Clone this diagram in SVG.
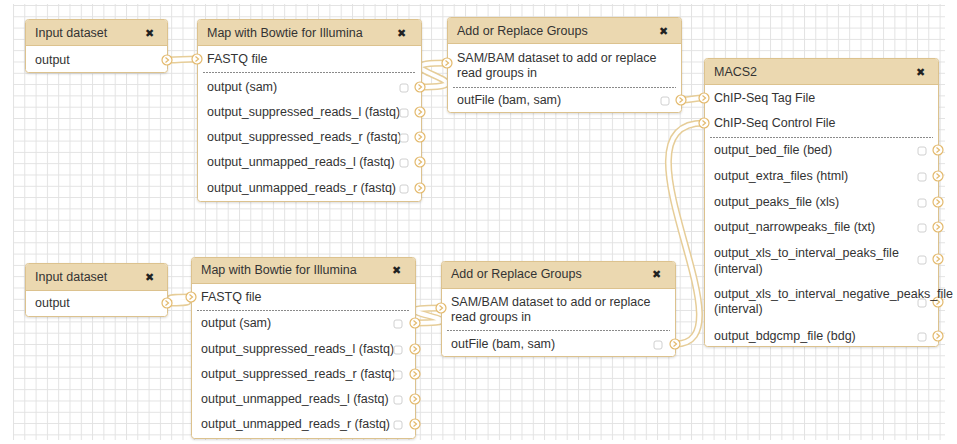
<svg xmlns="http://www.w3.org/2000/svg" width="957" height="444" viewBox="0 0 957 444">
<defs>
<pattern id="grid" width="11.3" height="11.3" patternUnits="userSpaceOnUse" x="13" y="5">
<path d="M0 0.5H11.3M0.5 0V11.3" stroke="#e2e2e2" fill="none" stroke-width="1"/>
</pattern>
<filter id="sh" x="-5%" y="-5%" width="110%" height="115%"><feDropShadow dx="0" dy="1" stdDeviation="1" flood-color="#000" flood-opacity="0.15"/></filter>
<g id="term"><circle r="5" fill="#fff" stroke="#e3b96c" stroke-width="1.2"/><path d="M-1.5 -2.5L1.5 0L-1.5 2.5" fill="none" stroke="#e3b96c" stroke-width="1.2"/></g>
<rect id="cb" x="-4" y="-4" width="8" height="8" rx="2" fill="#fff" stroke="#d0d0d0"/>
</defs>
<style>
.t{font-family:"Liberation Sans",Arial,sans-serif;font-size:12.5px;fill:#333}
.x{font-family:"DejaVu Sans",sans-serif;font-size:11px;fill:#222;font-weight:bold}
.body{fill:#fff;stroke:#dcc28e;stroke-width:1}
.head{fill:#ebd8b0}
.hl{stroke:#dcc28e;stroke-width:1}
.sep{stroke:#8a8a8a;stroke-width:1;stroke-dasharray:2 1}
.co{fill:none;stroke:#e6cd98;stroke-width:7}
.ci{fill:none;stroke:#fff;stroke-width:4}
</style>
<rect width="957" height="444" fill="#fff"/>
<rect x="13" y="4" width="932" height="436" fill="url(#grid)"/>

<g id="connectors">
<path class="co" d="M167,60 C182,60 182,59 197,59"/>
<path class="ci" d="M167,60 C182,60 182,59 197,59"/>
<path class="co" d="M420,87 C500,87 367,63 447,63"/>
<path class="ci" d="M420,87 C500,87 367,63 447,63"/>
<path class="co" d="M681,100 C693,100 692,98 704,98"/>
<path class="ci" d="M681,100 C693,100 692,98 704,98"/>
<path class="co" d="M167,303 C227,303 131,297 191,297"/>
<path class="ci" d="M167,303 C227,303 131,297 191,297"/>
<path class="co" d="M415,323 C495,323 361,308 441,308"/>
<path class="ci" d="M415,323 C495,323 361,308 441,308"/>
<path class="co" d="M675,344 C755,344 604,123 704,123"/>
<path class="ci" d="M675,344 C755,344 604,123 704,123"/>
</g>

<g id="input1">
<rect class="body" x="25.5" y="19.5" width="142" height="53" rx="3" filter="url(#sh)"/>
<path class="head" d="M26,45 V22.5 a2.5,2.5 0 0 1 2.5,-2.5 H164.5 a2.5,2.5 0 0 1 2.5,2.5 V45 Z"/>
<line class="hl" x1="25.5" y1="45.5" x2="167.5" y2="45.5"/>
<text class="t" x="35" y="37">Input dataset</text>
<text class="x" x="145" y="37">✖</text>
<text class="t" x="35" y="64">output</text>
<use href="#term" x="167" y="60"/>
</g>

<g id="bowtie1">
<rect class="body" x="197.5" y="19.5" width="224" height="182" rx="3" filter="url(#sh)"/>
<path class="head" d="M198,45 V22.5 a2.5,2.5 0 0 1 2.5,-2.5 H418.5 a2.5,2.5 0 0 1 2.5,2.5 V45 Z"/>
<line class="hl" x1="197.5" y1="45.5" x2="421.5" y2="45.5"/>
<text class="t" x="207" y="37">Map with Bowtie for Illumina</text>
<text class="x" x="397" y="37">✖</text>
<use href="#term" x="197" y="59"/>
<text class="t" x="207" y="63">FASTQ file</text>
<line class="sep" x1="203" y1="72.5" x2="416" y2="72.5"/>
<text class="t" x="207" y="91">output (sam)</text>
<text class="t" x="207" y="116">output_suppressed_reads_l (fastq)</text>
<text class="t" x="207" y="141">output_suppressed_reads_r (fastq)</text>
<text class="t" x="207" y="166">output_unmapped_reads_l (fastq)</text>
<text class="t" x="207" y="192">output_unmapped_reads_r (fastq)</text>
<use href="#cb" x="404" y="88"/><use href="#term" x="420" y="87"/>
<use href="#cb" x="404" y="113"/><use href="#term" x="420" y="112"/>
<use href="#cb" x="404" y="138"/><use href="#term" x="420" y="137"/>
<use href="#cb" x="404" y="163"/><use href="#term" x="420" y="162"/>
<use href="#cb" x="404" y="189"/><use href="#term" x="420" y="188"/>
</g>

<g id="addgroups1">
<rect class="body" x="447.5" y="17.5" width="234" height="95" rx="3" filter="url(#sh)"/>
<path class="head" d="M448,43 V20.5 a2.5,2.5 0 0 1 2.5,-2.5 H678.5 a2.5,2.5 0 0 1 2.5,2.5 V43 Z"/>
<line class="hl" x1="447.5" y1="43.5" x2="681.5" y2="43.5"/>
<text class="t" x="457" y="35">Add or Replace Groups</text>
<text class="x" x="659" y="35">✖</text>
<use href="#term" x="447" y="63"/>
<text class="t" x="457" y="62">SAM/BAM dataset to add or replace</text>
<text class="t" x="457" y="77">read groups in</text>
<line class="sep" x1="453" y1="87.5" x2="676" y2="87.5"/>
<text class="t" x="457" y="104">outFile (bam, sam)</text>
<use href="#cb" x="665" y="101"/><use href="#term" x="681" y="100"/>
</g>

<g id="macs2">
<rect class="body" x="704.5" y="58.5" width="234" height="288" rx="3" filter="url(#sh)"/>
<path class="head" d="M705,84 V61.5 a2.5,2.5 0 0 1 2.5,-2.5 H935.5 a2.5,2.5 0 0 1 2.5,2.5 V84 Z"/>
<line class="hl" x1="704.5" y1="84.5" x2="938.5" y2="84.5"/>
<text class="t" x="714" y="76">MACS2</text>
<text class="x" x="916" y="76">✖</text>
<use href="#term" x="704" y="98"/>
<text class="t" x="714" y="102">ChIP-Seq Tag File</text>
<use href="#term" x="704" y="123"/>
<text class="t" x="714" y="127">ChIP-Seq Control File</text>
<line class="sep" x1="710" y1="137.5" x2="933" y2="137.5"/>
<text class="t" x="714" y="154">output_bed_file (bed)</text>
<text class="t" x="714" y="180">output_extra_files (html)</text>
<text class="t" x="714" y="206">output_peaks_file (xls)</text>
<text class="t" x="714" y="231">output_narrowpeaks_file (txt)</text>
<text class="t" x="714" y="257">output_xls_to_interval_peaks_file</text>
<text class="t" x="714" y="273">(interval)</text>
<use href="#cb" x="922" y="151"/><use href="#term" x="938" y="150"/>
<use href="#cb" x="922" y="177"/><use href="#term" x="938" y="176"/>
<use href="#cb" x="922" y="203"/><use href="#term" x="938" y="202"/>
<use href="#cb" x="922" y="228"/><use href="#term" x="938" y="227"/>
<use href="#cb" x="922" y="260"/><use href="#term" x="938" y="259"/>
<use href="#cb" x="922" y="303"/><use href="#term" x="938" y="302"/>
<use href="#cb" x="922" y="337"/><use href="#term" x="938" y="336"/>
<text class="t" x="714" y="298">output_xls_to_interval_negative_peaks_file</text>
<text class="t" x="714" y="313">(interval)</text>
<text class="t" x="714" y="340">output_bdgcmp_file (bdg)</text>
</g>

<g id="input2">
<rect class="body" x="25.5" y="263.5" width="142" height="53" rx="3" filter="url(#sh)"/>
<path class="head" d="M26,290 V266.5 a2.5,2.5 0 0 1 2.5,-2.5 H164.5 a2.5,2.5 0 0 1 2.5,2.5 V290 Z"/>
<line class="hl" x1="25.5" y1="290.5" x2="167.5" y2="290.5"/>
<text class="t" x="35" y="281">Input dataset</text>
<text class="x" x="145" y="281">✖</text>
<text class="t" x="35" y="307">output</text>
<use href="#term" x="167" y="303"/>
</g>

<g id="bowtie2">
<rect class="body" x="191.5" y="257.5" width="224" height="181" rx="3" filter="url(#sh)"/>
<path class="head" d="M192,283 V260.5 a2.5,2.5 0 0 1 2.5,-2.5 H412.5 a2.5,2.5 0 0 1 2.5,2.5 V283 Z"/>
<line class="hl" x1="191.5" y1="283.5" x2="415.5" y2="283.5"/>
<text class="t" x="201" y="274">Map with Bowtie for Illumina</text>
<text class="x" x="392" y="274">✖</text>
<use href="#term" x="191" y="297"/>
<text class="t" x="201" y="301">FASTQ file</text>
<line class="sep" x1="197" y1="310.5" x2="410" y2="310.5"/>
<text class="t" x="201" y="327">output (sam)</text>
<text class="t" x="201" y="353">output_suppressed_reads_l (fastq)</text>
<text class="t" x="201" y="378">output_suppressed_reads_r (fastq)</text>
<text class="t" x="201" y="403">output_unmapped_reads_l (fastq)</text>
<text class="t" x="201" y="428">output_unmapped_reads_r (fastq)</text>
<use href="#cb" x="398" y="324"/><use href="#term" x="415" y="323"/>
<use href="#cb" x="398" y="350"/><use href="#term" x="415" y="349"/>
<use href="#cb" x="398" y="375"/><use href="#term" x="415" y="374"/>
<use href="#cb" x="398" y="400"/><use href="#term" x="415" y="399"/>
<use href="#cb" x="398" y="425"/><use href="#term" x="415" y="424"/>
</g>

<g id="addgroups2">
<rect class="body" x="441.5" y="261.5" width="234" height="95" rx="3" filter="url(#sh)"/>
<path class="head" d="M442,288 V264.5 a2.5,2.5 0 0 1 2.5,-2.5 H672.5 a2.5,2.5 0 0 1 2.5,2.5 V288 Z"/>
<line class="hl" x1="441.5" y1="288.5" x2="675.5" y2="288.5"/>
<text class="t" x="451" y="278">Add or Replace Groups</text>
<text class="x" x="652" y="278">✖</text>
<use href="#term" x="441" y="308"/>
<text class="t" x="451" y="306">SAM/BAM dataset to add or replace</text>
<text class="t" x="451" y="321">read groups in</text>
<line class="sep" x1="447" y1="330.5" x2="670" y2="330.5"/>
<text class="t" x="451" y="348">outFile (bam, sam)</text>
<use href="#cb" x="658" y="345"/><use href="#term" x="675" y="344"/>
</g>
</svg>
